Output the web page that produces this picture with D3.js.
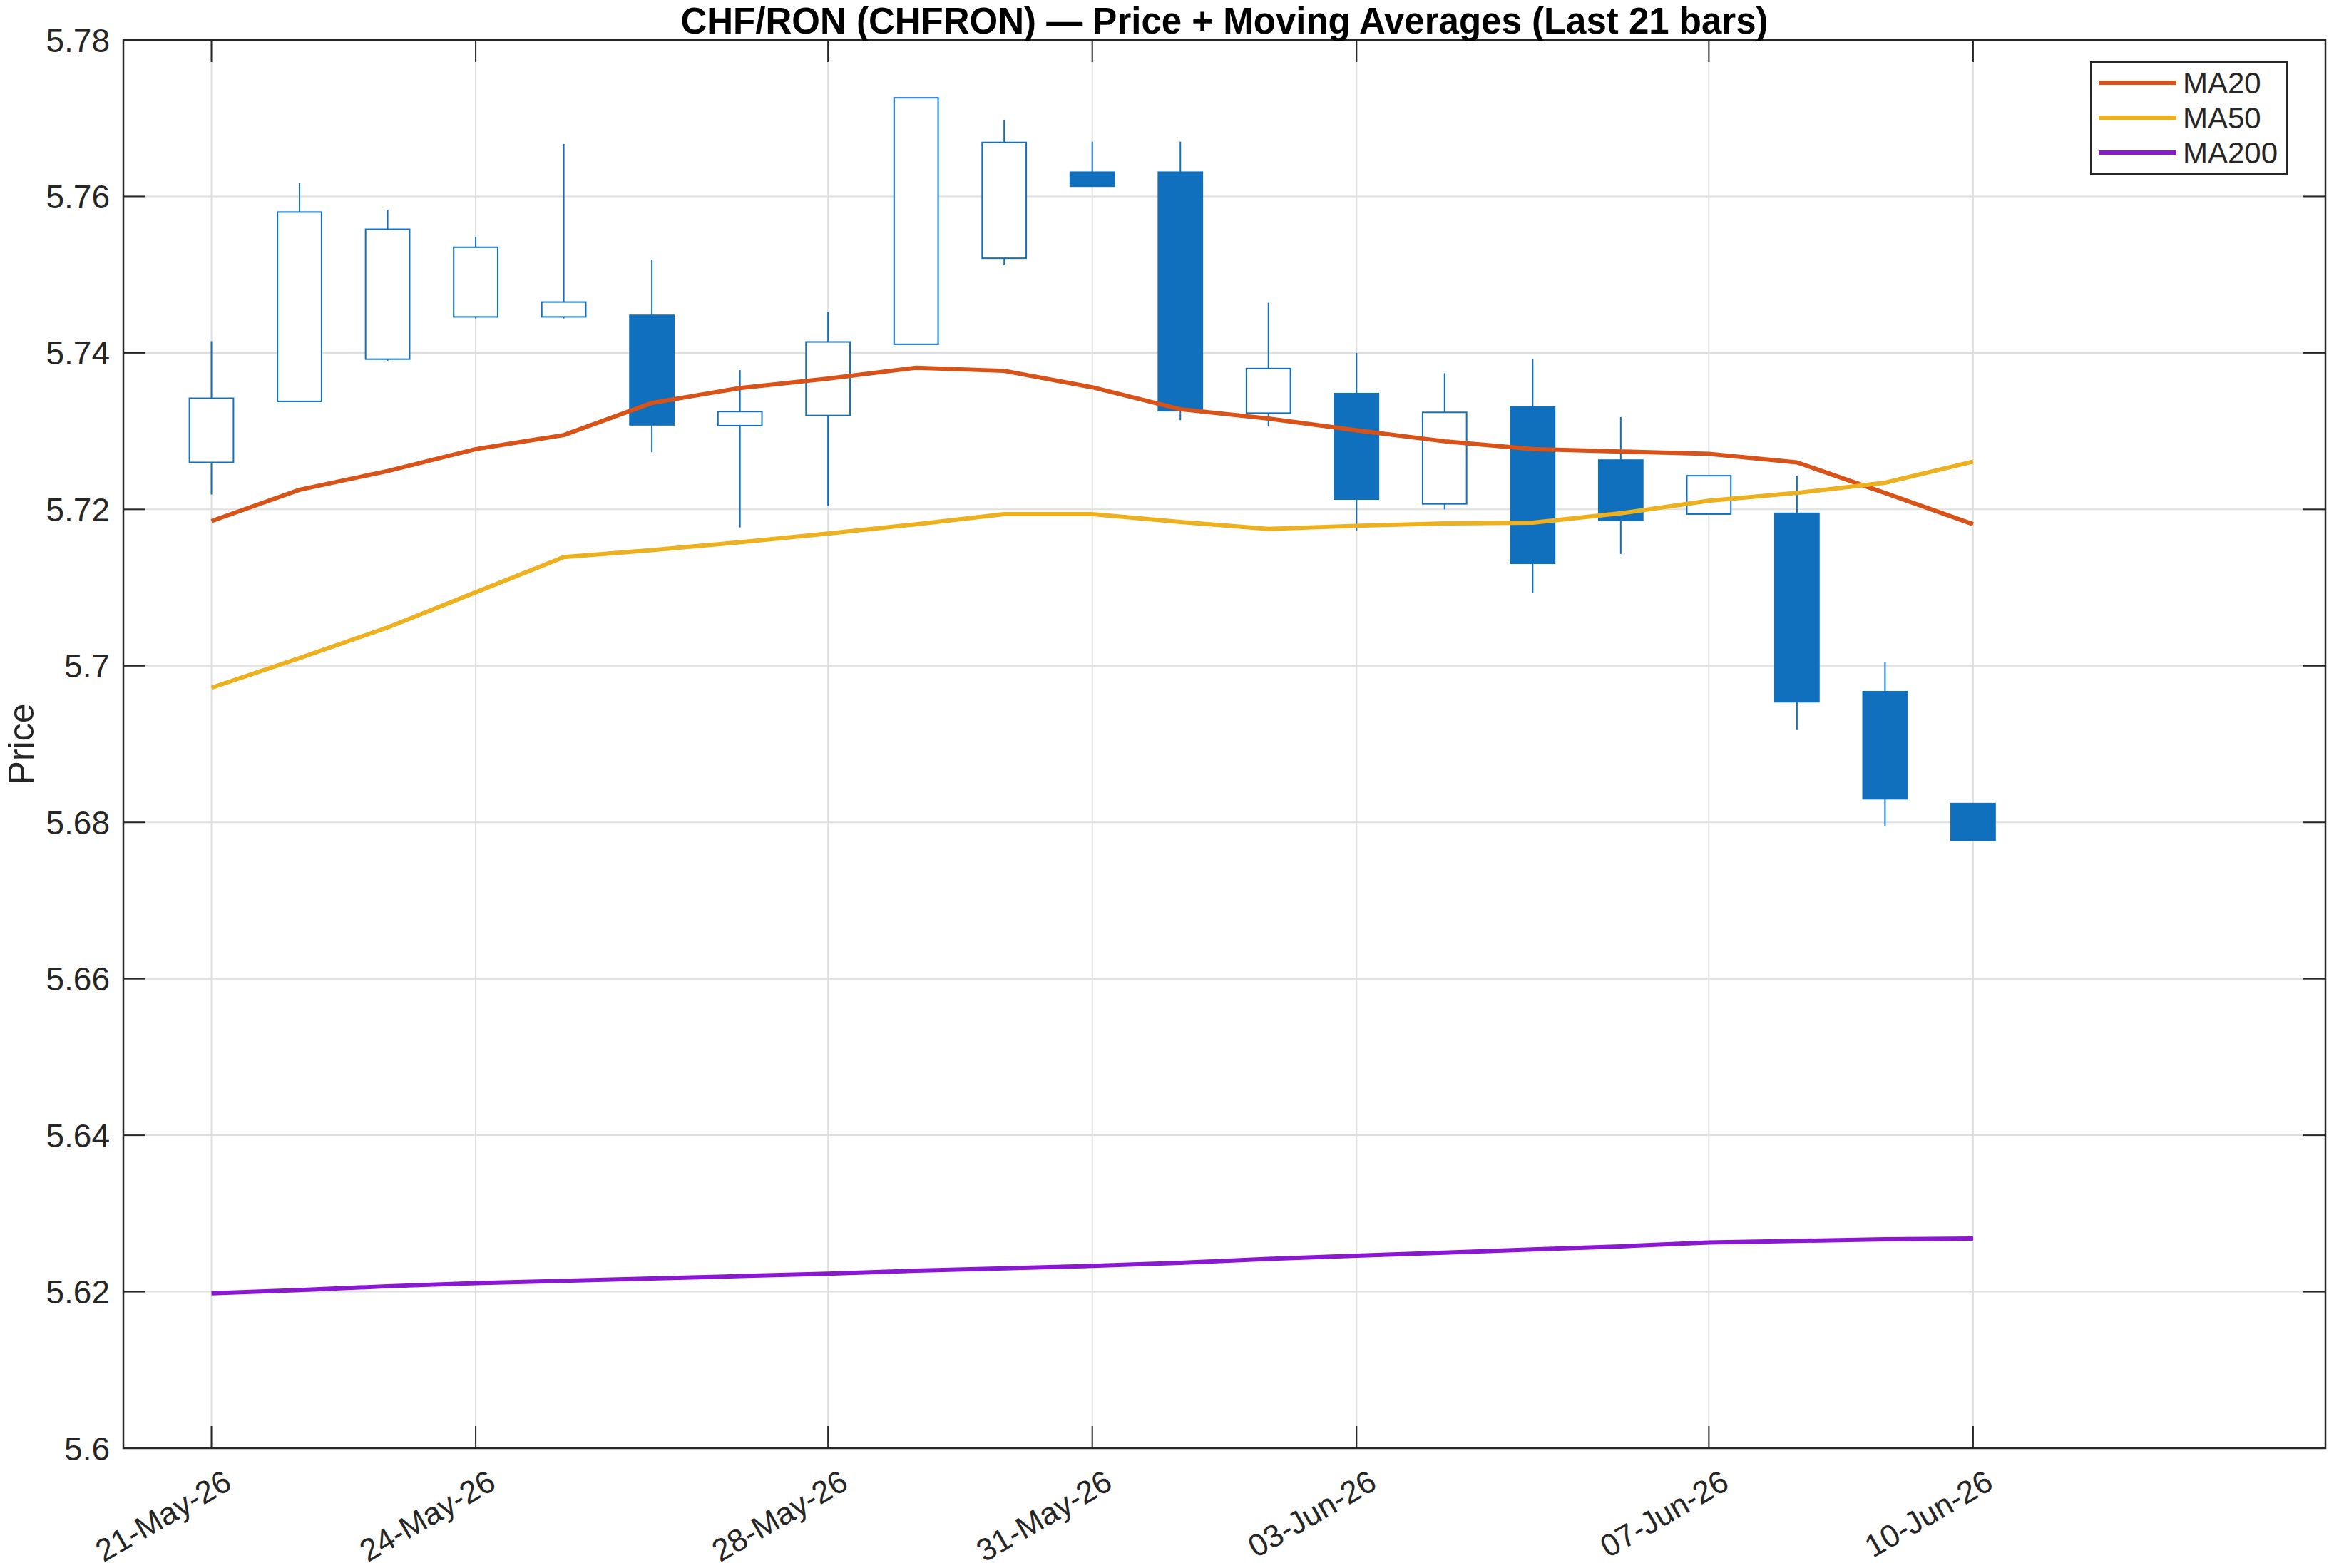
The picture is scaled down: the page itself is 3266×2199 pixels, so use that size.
<!DOCTYPE html>
<html>
<head>
<meta charset="utf-8">
<script src="https://cdn.jsdelivr.net/npm/d3@7"></script>
<style>
  html, body { margin: 0; padding: 0; background: #fff; }
  svg { display: block; font-family: "Liberation Sans", Arial, Helvetica, sans-serif; }
</style>
</head>
<body>
<div></div>
<script>
// bars: one per day, 21 May 2026 .. 10 Jun 2026
const dates = [
  "2026-05-21", "2026-05-22", "2026-05-23", "2026-05-24", "2026-05-25",
  "2026-05-26", "2026-05-27", "2026-05-28", "2026-05-29", "2026-05-30",
  "2026-05-31", "2026-06-01", "2026-06-02", "2026-06-03", "2026-06-04",
  "2026-06-05", "2026-06-06", "2026-06-07", "2026-06-08", "2026-06-09",
  "2026-06-10"
];
const open = [5.7260, 5.7338, 5.7392, 5.7446, 5.7446, 5.7448, 5.7307, 5.7320, 5.7411, 5.7521, 5.7631,
  5.7631, 5.7323, 5.7348, 5.7207, 5.7331, 5.7263, 5.7194, 5.7195, 5.6967, 5.6824];
const high = [5.7415, 5.7617, 5.7583, 5.7548, 5.7667, 5.7519, 5.7378, 5.7452, 5.7726, 5.7698, 5.7670,
  5.7670, 5.7464, 5.7400, 5.7374, 5.7392, 5.7318, 5.7243, 5.7243, 5.7005, 5.6824];
const low = [5.7219, 5.7337, 5.7390, 5.7444, 5.7444, 5.7273, 5.7177, 5.7204, 5.7411, 5.7512, 5.7613,
  5.7314, 5.7307, 5.7173, 5.7200, 5.7093, 5.7143, 5.7194, 5.6918, 5.6795, 5.6777];
const close = [5.7342, 5.7580, 5.7558, 5.7535, 5.7465, 5.7308, 5.7325, 5.7414, 5.7726, 5.7669, 5.7613,
  5.7326, 5.7380, 5.7213, 5.7324, 5.7131, 5.7186, 5.7243, 5.6954, 5.6830, 5.6777];

const ma20 = [5.7185, 5.7225, 5.7249, 5.7277, 5.7295, 5.7336, 5.7355, 5.7367, 5.7381, 5.7377, 5.7356,
  5.7328, 5.7316, 5.7301, 5.7287, 5.7277, 5.7274, 5.7271, 5.7260, 5.7221, 5.7181];
const ma50 = [5.6972, 5.7010, 5.7049, 5.7094, 5.7139, 5.7148, 5.7158, 5.7169, 5.7181, 5.7194, 5.7194,
  5.7184, 5.7175, 5.7179, 5.7182, 5.7183, 5.7195, 5.7211, 5.7221, 5.7234, 5.7261];
const ma200 = [5.6198, 5.6202, 5.6207, 5.6211, 5.6214, 5.6217, 5.6220, 5.6223, 5.6227, 5.6230, 5.6233,
  5.6237, 5.6242, 5.6246, 5.6250, 5.6254, 5.6258, 5.6263, 5.6265, 5.6267, 5.6268];

const xTickDates = ["2026-05-21", "2026-05-24", "2026-05-28", "2026-05-31", "2026-06-03", "2026-06-07", "2026-06-10"];
const xTickLabels = ["21-May-26", "24-May-26", "28-May-26", "31-May-26", "03-Jun-26", "07-Jun-26", "10-Jun-26"];
const yTicks = [5.6, 5.62, 5.64, 5.66, 5.68, 5.7, 5.72, 5.74, 5.76, 5.78];
const yTickLabels = ["5.6", "5.62", "5.64", "5.66", "5.68", "5.7", "5.72", "5.74", "5.76", "5.78"];

const seriesNames = ["MA20", "MA50", "MA200"];
const seriesColors = ["#d95319", "#edb120", "#8a17d2"];

const width = 3266;
const height = 2199;
const plotLeft = 173;
const plotRight = 3261;
const plotTop = 56;
const plotBottom = 2031;
const tickLen = 31;
const candleColor = "#1170bd";
const axisColor = "#262626";

const parse = d3.utcParse("%Y-%m-%d");
const days = dates.map(parse);

const svg = d3
  .select("div")
  .append("svg")
  .attr("width", width)
  .attr("height", height);

const scale_X = d3
  .scaleUtc()
  .domain([d3.utcDay.offset(days[0], -1), d3.utcDay.offset(days[days.length - 1], 4)])
  .range([plotLeft, plotRight]);

const scale_Y = d3.scaleLinear().domain([5.6, 5.78]).range([plotBottom, plotTop]);

const dayWidth = scale_X(days[1]) - scale_X(days[0]);
const bodyWidth = dayWidth * 0.5;

// grid
const grid = svg.append("g").attr("stroke", "#dfdfdf").attr("stroke-width", 2);
grid
  .selectAll("line.gx")
  .data(xTickDates.map(parse))
  .enter()
  .append("line")
  .attr("x1", (d) => scale_X(d))
  .attr("x2", (d) => scale_X(d))
  .attr("y1", plotTop)
  .attr("y2", plotBottom);
grid
  .selectAll("line.gy")
  .data(yTicks)
  .enter()
  .append("line")
  .attr("x1", plotLeft)
  .attr("x2", plotRight)
  .attr("y1", (d) => scale_Y(d))
  .attr("y2", (d) => scale_Y(d));

// candles
const bars = days.map((d, i) => ({
  date: d,
  open: open[i],
  high: high[i],
  low: low[i],
  close: close[i]
}));

const candles = svg.append("g");
candles
  .selectAll("line")
  .data(bars)
  .enter()
  .append("line")
  .attr("x1", (d) => scale_X(d.date))
  .attr("x2", (d) => scale_X(d.date))
  .attr("y1", (d) => scale_Y(d.high))
  .attr("y2", (d) => scale_Y(d.low))
  .attr("stroke", candleColor)
  .attr("stroke-width", 2);

candles
  .selectAll("rect")
  .data(bars)
  .enter()
  .append("rect")
  .attr("x", (d) => scale_X(d.date) - bodyWidth / 2)
  .attr("y", (d) => scale_Y(Math.max(d.open, d.close)))
  .attr("width", bodyWidth)
  .attr("height", (d) => Math.max(1, Math.abs(scale_Y(d.open) - scale_Y(d.close))))
  .attr("fill", (d) => (d.close < d.open ? candleColor : "#ffffff"))
  .attr("stroke", candleColor)
  .attr("stroke-width", 2);

// moving averages
const line = d3
  .line()
  .x((d) => scale_X(d[0]))
  .y((d) => scale_Y(d[1]));

[ma20, ma50, ma200].forEach((vals, k) => {
  svg
    .append("path")
    .datum(days.map((d, i) => [d, vals[i]]))
    .attr("d", line)
    .attr("fill", "none")
    .attr("stroke", seriesColors[k])
    .attr("stroke-width", 6)
    .attr("stroke-linejoin", "round");
});

// axes (box with inward ticks on all four sides)
const axes = svg.append("g").attr("stroke", axisColor);
axes
  .append("rect")
  .attr("x", plotLeft)
  .attr("y", plotTop)
  .attr("width", plotRight - plotLeft)
  .attr("height", plotBottom - plotTop)
  .attr("fill", "none")
  .attr("stroke-width", 2.5);

xTickDates.map(parse).forEach((d) => {
  const x = scale_X(d);
  axes.append("line").attr("x1", x).attr("x2", x).attr("y1", plotBottom).attr("y2", plotBottom - tickLen).attr("stroke-width", 2);
  axes.append("line").attr("x1", x).attr("x2", x).attr("y1", plotTop).attr("y2", plotTop + tickLen).attr("stroke-width", 2);
});
yTicks.forEach((v) => {
  const y = scale_Y(v);
  axes.append("line").attr("x1", plotLeft).attr("x2", plotLeft + tickLen).attr("y1", y).attr("y2", y).attr("stroke-width", 2);
  axes.append("line").attr("x1", plotRight).attr("x2", plotRight - tickLen).attr("y1", y).attr("y2", y).attr("stroke-width", 2);
});

// tick labels
svg
  .append("g")
  .selectAll("text")
  .data(yTicks)
  .enter()
  .append("text")
  .attr("x", plotLeft - 19)
  .attr("y", (d) => scale_Y(d))
  .attr("dy", "0.36em")
  .attr("text-anchor", "end")
  .attr("font-size", 46)
  .attr("fill", axisColor)
  .text((d, i) => yTickLabels[i]);

svg
  .append("g")
  .selectAll("text")
  .data(xTickDates.map(parse))
  .enter()
  .append("text")
  .attr("transform", (d) => "translate(" + (scale_X(d) + 15) + "," + (plotBottom + 28) + ") rotate(-30)")
  .attr("dy", "0.72em")
  .attr("text-anchor", "end")
  .attr("font-size", 44)
  .attr("fill", axisColor)
  .text((d, i) => xTickLabels[i]);

// title and y label
svg
  .append("text")
  .attr("x", (plotLeft + plotRight) / 2)
  .attr("y", 47)
  .attr("text-anchor", "middle")
  .attr("font-size", 51)
  .attr("font-weight", "bold")
  .attr("fill", "#000")
  .text("CHF/RON (CHFRON) \u2014 Price + Moving Averages (Last 21 bars)");

svg
  .append("text")
  .attr("transform", "translate(47," + (plotTop + plotBottom) / 2 + ") rotate(-90)")
  .attr("text-anchor", "middle")
  .attr("font-size", 50)
  .attr("fill", axisColor)
  .text("Price");

// legend
const legend = svg.append("g").attr("id", "legend");
legend
  .append("rect")
  .attr("x", 2932)
  .attr("y", 87)
  .attr("width", 275)
  .attr("height", 157)
  .attr("fill", "#fff")
  .attr("stroke", axisColor)
  .attr("stroke-width", 2);

seriesNames.forEach((name, k) => {
  const y = 116 + k * 49;
  legend
    .append("line")
    .attr("x1", 2943)
    .attr("x2", 3052)
    .attr("y1", y)
    .attr("y2", y)
    .attr("stroke", seriesColors[k])
    .attr("stroke-width", 6);
  legend
    .append("text")
    .attr("x", 3061)
    .attr("y", y)
    .attr("dy", "0.36em")
    .attr("font-size", 42)
    .attr("fill", axisColor)
    .text(name);
});
</script>
</body>
</html>
